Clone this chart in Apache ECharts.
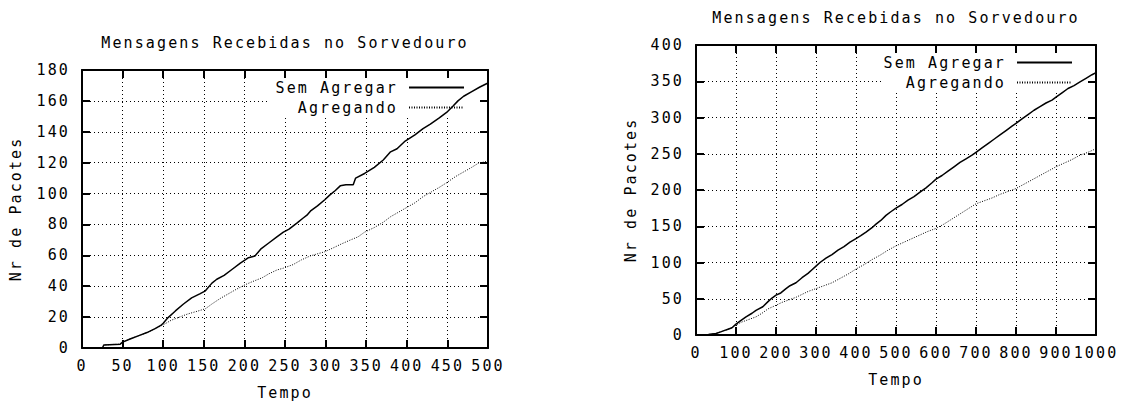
<!DOCTYPE html>
<html>
<head>
<meta charset="utf-8">
<script src="https://cdn.jsdelivr.net/npm/echarts@6/dist/echarts.min.js"></script>
<style>
  html, body { margin: 0; padding: 0; background: #fff; }
  #chart { width: 1142px; height: 405px; }
  #chart svg text { letter-spacing: 2.1px; }
</style>
</head>
<body>
<div id="chart"></div>
<script>
// ---- Data ----
const chartTitle = 'Mensagens Recebidas no Sorvedouro';
const xName = 'Tempo';
const yName = 'Nr de Pacotes';
const seriesNames = ['Sem Agregar', 'Agregando'];

// Left chart (Tempo 0..500)
const leftSemAgregar = [[25,0],[27,2],[47,2.5],[50,3.8],[60,6],[70,8],[80,10],[90,12.5],[97,14.6],[100,16],[106,19.7],[115,24],[125,28.5],[135,32.5],[145,35],[152,37],[160,42],[166,44.5],[175,47],[185,51],[195,55],[201,57],[205,58.5],[213,59.6],[220,64],[230,68],[240,72],[248,75],[255,77],[265,81],[272,84],[277,86],[282,89],[290,92],[299,96],[305,99],[312,102],[318,105],[325,105.7],[334,105.7],[337,110],[348,113],[360,117],[371,121.7],[380,127],[388,129],[398,134],[410,138],[420,142],[429,145],[440,149],[449,152.5],[457,156.7],[463,160],[470,163],[480,166],[490,169],[500,171.6]];
const leftAgregando = [[25,0],[27,2],[47,2.5],[50,3.8],[60,6],[70,8],[80,10],[90,12.5],[100,15],[110,18],[120,20],[130,22],[140,23.5],[152,25.4],[160,28.5],[170,32],[180,35],[190,38],[201,41],[210,43],[222,45.5],[230,48],[240,50.5],[248,51.7],[260,54],[270,57],[281,59.6],[290,61],[299,62.3],[310,65],[320,67.5],[330,69.8],[340,72],[348,75],[360,78],[371,81.4],[380,85],[390,88],[400,91],[410,94],[420,98],[430,101],[440,104],[449,107],[460,111],[470,114],[480,117],[488,119.6],[500,121]];

// Right chart (Tempo 0..1000)
const rightSemAgregar = [[27,0],[35,1],[50,2],[60,4],[70,6],[80,8],[90,10],[100,15],[110,19],[125,25],[140,30],[150,34],[167,39],[180,46],[190,51],[200,55],[212,58],[225,64],[235,68],[250,72],[265,79],[280,85],[290,90],[300,95],[310,100],[325,106],[340,111],[355,117],[370,122],[385,128],[400,133],[412,137],[425,142],[440,148],[450,153],[462,158],[475,165],[487,170],[500,175],[515,180],[530,186],[545,191],[560,197],[575,203],[590,210],[600,215],[615,220],[630,226],[645,232],[660,238],[675,243],[690,248],[700,252],[715,258],[730,264],[745,270],[760,276],[775,282],[790,288],[800,292],[815,298],[830,304],[845,310],[860,315],[875,320],[890,324],[900,328],[915,334],[930,340],[945,344],[960,349],[975,354],[990,359],[1000,362]];
const rightAgregando = [[27,0],[35,1],[50,2],[60,4],[70,6],[80,8],[90,10],[100,14],[115,18],[130,21],[150,25],[165,30],[180,36],[200,41],[215,45],[230,48],[250,52],[265,56],[280,60],[300,64],[320,68],[340,72],[360,78],[380,84],[400,91],[420,97],[440,104],[460,110],[480,117],[500,123],[520,128],[540,133],[560,138],[580,143],[600,147],[620,153],[640,160],[660,167],[680,174],[700,181],[720,185],[740,189],[760,194],[780,198],[800,202],[820,208],[840,214],[860,220],[880,226],[900,232],[920,237],[940,242],[960,248],[980,252],[1000,257]];

const leftX = { min: 0, max: 500, interval: 50 };
const leftY = { min: 0, max: 180, interval: 20 };
const rightX = { min: 0, max: 1000, interval: 100 };
const rightY = { min: 0, max: 400, interval: 50 };

// ---- Styling ----
const FONT = 'DejaVu Sans Mono';
const FS = 15;
const txt = { fontFamily: FONT, fontSize: FS, color: '#000', fontWeight: 'normal' };
const frameLine = { show: true, onZero: false, lineStyle: { color: '#000', width: 2 } };
const tick = { show: true, inside: true, length: 8, lineStyle: { color: '#000', width: 2 } };
const grid = { show: true, lineStyle: { color: '#000', width: 1, type: [1, 3] } };
const plain = v => String(v);

function mainX(gi, r) {
  return Object.assign({ gridIndex: gi, type: 'value', position: 'bottom', z: 0,
    axisLine: frameLine, axisTick: tick, splitLine: grid,
    axisLabel: Object.assign({ margin: 10, showMinLabel: true, showMaxLabel: true, hideOverlap: false, formatter: plain }, txt),
    name: xName, nameLocation: 'middle', nameGap: 37, nameTextStyle: txt }, r);
}
function mirrorX(gi, r) {
  return Object.assign({ gridIndex: gi, type: 'value', position: 'top', z: 5,
    axisLine: frameLine, axisTick: tick, splitLine: { show: false }, axisLabel: { show: false } }, r);
}
function mainY(gi, r, gap) {
  return Object.assign({ gridIndex: gi, type: 'value', position: 'left', z: 0,
    axisLine: frameLine, axisTick: tick, splitLine: grid,
    axisLabel: Object.assign({ margin: 12, showMinLabel: true, showMaxLabel: true, formatter: plain }, txt),
    name: yName, nameLocation: 'middle', nameGap: gap, nameTextStyle: txt }, r);
}
function mirrorY(gi, r) {
  return Object.assign({ gridIndex: gi, type: 'value', position: 'right', z: 5,
    axisLine: frameLine, axisTick: tick, splitLine: { show: false }, axisLabel: { show: false } }, r);
}
function legendAt(right, top) {
  return { orient: 'vertical', right: right, top: top, align: 'right',
    itemWidth: 55, itemHeight: 14, itemGap: 5, padding: 0,
    selectedMode: false,
    itemStyle: { opacity: 0, borderWidth: 0 },
    textStyle: Object.assign({ padding: [0, 6, 0, 0] }, txt),
    data: seriesNames };
}
function lineSeries(name, data, xi, yi, dotted) {
  return { name: name, type: 'line', data: data, xAxisIndex: xi, yAxisIndex: yi,
    showSymbol: false, symbol: 'none', z: 2,
    lineStyle: dotted ? { color: '#000', width: 1, type: [1, 1.5] } : { color: '#000', width: 1.5, type: 'solid' },
    itemStyle: { color: '#000' } };
}

const chart = echarts.init(document.getElementById('chart'), null, { renderer: 'svg', width: 1142, height: 405 });
chart.setOption({
  animation: false,
  backgroundColor: '#fff',
  title: [
    { text: chartTitle, left: 285, top: 35, textAlign: 'center', padding: 0, textStyle: txt },
    { text: chartTitle, left: 896, top: 10, textAlign: 'center', padding: 0, textStyle: txt }
  ],
  grid: [
    { left: 82, top: 70, width: 406, height: 283, containLabel: false },
    { left: 696, top: 45, width: 400, height: 290, containLabel: false }
  ],
  xAxis: [ mainX(0, leftX), mirrorX(0, leftX), mainX(1, rightX), mirrorX(1, rightX) ],
  yAxis: [ mainY(0, leftY, 59), mirrorY(0, leftY), mainY(1, rightY, 58), mirrorY(1, rightY) ],
  legend: [ legendAt(1142 - 465, 80), legendAt(1142 - 1073, 55) ],
  graphic: [
    { type: 'rect', z: 1, silent: true, shape: { x: 267, y: 71, width: 220, height: 46 }, style: { fill: '#fff' } },
    { type: 'rect', z: 1, silent: true, shape: { x: 883, y: 46, width: 212, height: 47 }, style: { fill: '#fff' } }
  ],
  series: [
    lineSeries(seriesNames[0], leftSemAgregar, 0, 0, false),
    lineSeries(seriesNames[1], leftAgregando, 0, 0, true),
    lineSeries(seriesNames[0], rightSemAgregar, 2, 2, false),
    lineSeries(seriesNames[1], rightAgregando, 2, 2, true)
  ]
});
</script>
</body>
</html>
